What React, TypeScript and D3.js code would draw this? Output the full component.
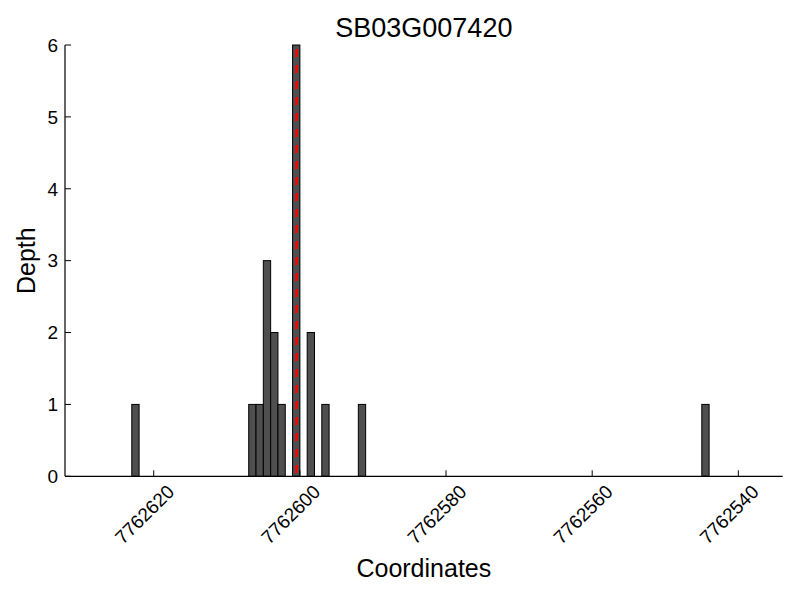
import React from "react";
import * as d3 from "d3";

const positions = [7762622, 7762606, 7762605, 7762604, 7762603, 7762602, 7762600, 7762598, 7762596, 7762591, 7762544];
const depths = [1, 1, 1, 3, 2, 1, 6, 2, 1, 1, 1];
const xTicks = [7762620, 7762600, 7762580, 7762560, 7762540];
const yTicks = [0, 1, 2, 3, 4, 5, 6];
const markerPos = [7762600.45];
const title = "SB03G007420";

const W = 800, H = 600;
const L = 65, R = 782.7, T = 45, B = 476.3;
const font = "'Liberation Sans', Arial, sans-serif";

export default function App() {
  const x = d3.scaleLinear().domain([7762632.14, 7762533.93]).range([L, R]);
  const y = d3.scaleLinear().domain([0, 6]).range([B, T]);
  return (
    <svg width={W} height={H} style={{ position: "absolute", left: 0, top: 0 }} fontFamily={font}>
      <rect width={W} height={H} fill="#fff" />
      {positions.map((p, i) => (
        <rect key={i} x={x(p + 1)} y={y(depths[i])} width={x(p) - x(p + 1)} height={y(0) - y(depths[i])}
          fill="#4f4f4f" stroke="#000" strokeWidth={1} />
      ))}
      {markerPos.map((m, i) => (
        <line key={i} x1={x(m)} x2={x(m)} y1={T} y2={B} stroke="#ff0000" strokeWidth={2.6} strokeDasharray="8,8" strokeDashoffset={-4} />
      ))}
      <line x1={L} x2={L} y1={T} y2={B} stroke="#000" strokeWidth={1.2} />
      <line x1={L} x2={R} y1={B} y2={B} stroke="#000" strokeWidth={1.2} />
      {yTicks.map((t) => (
        <g key={t}>
          <line x1={L} x2={L + 6} y1={y(t)} y2={y(t)} stroke="#000" />
          <text x={L - 7} y={y(t)} dy="0.36em" textAnchor="end" fontSize={19}>{t}</text>
        </g>
      ))}
      {xTicks.map((t) => (
        <g key={t}>
          <line x1={x(t)} x2={x(t)} y1={B} y2={B - 6} stroke="#000" />
          <text transform={`translate(${x(t) + 12},${B + 7}) rotate(-45)`} textAnchor="end" dy="0.72em" fontSize={19}>{t}</text>
        </g>
      ))}
      <text x={(L + R) / 2} y={37} textAnchor="middle" fontSize={27}>{title}</text>
      <text x={(L + R) / 2} y={577} textAnchor="middle" fontSize={25}>Coordinates</text>
      <text transform={`translate(35,${(T + B) / 2}) rotate(-90)`} textAnchor="middle" fontSize={25}>Depth</text>
    </svg>
  );
}
